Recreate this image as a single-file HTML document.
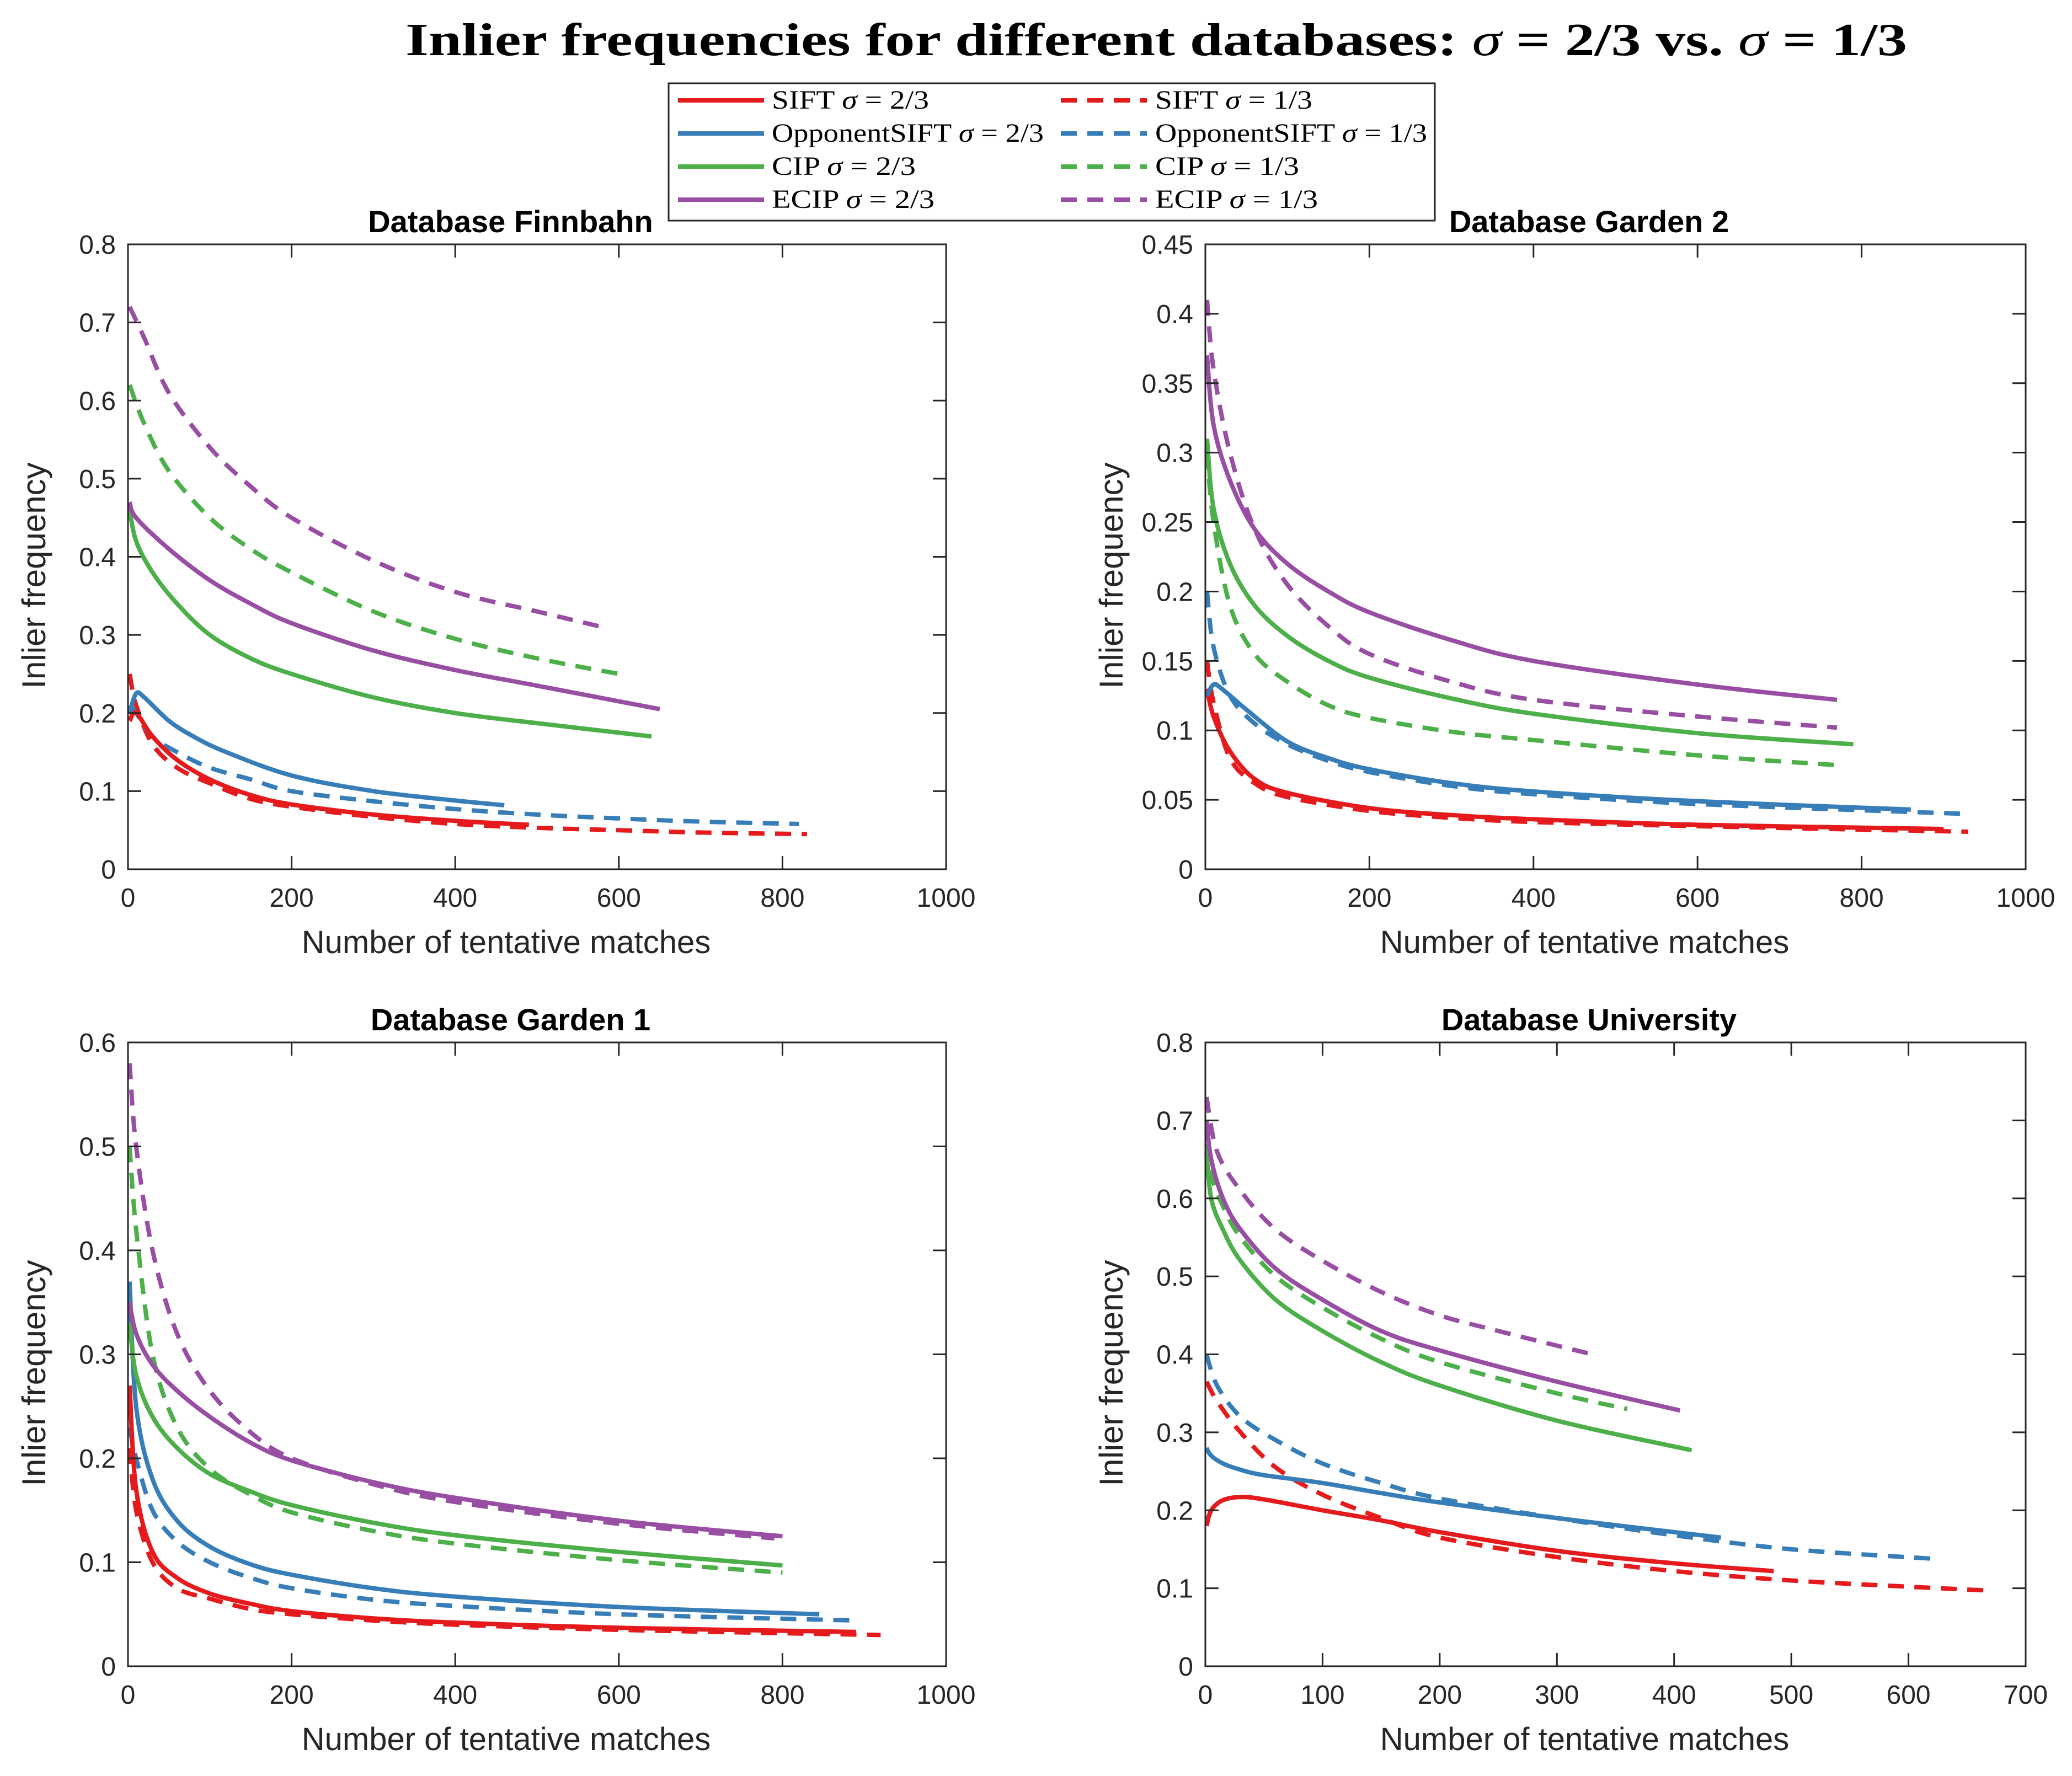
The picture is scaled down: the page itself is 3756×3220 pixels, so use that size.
<!DOCTYPE html>
<html><head><meta charset="utf-8">
<style>
html,body{margin:0;padding:0;background:#fff;}
svg{display:block;}
</style></head>
<body>
<svg id="fig" xmlns="http://www.w3.org/2000/svg" width="3756" height="3220" viewBox="0 0 3756 3220">
<rect width="3756" height="3220" fill="#fff"/>
<text x="735" y="100" textLength="2722" lengthAdjust="spacingAndGlyphs" font-family="Liberation Serif, serif" font-weight="bold" font-size="84">Inlier frequencies for different databases: <tspan font-style="italic" font-weight="normal">σ</tspan> = 2/3 vs. <tspan font-style="italic" font-weight="normal">σ</tspan> = 1/3</text>
<g id="plots"></g>
<g id="legend"></g>
</svg>
<script>
const colors = ["#e41a1c","#377eb8","#4daf4a","#984ea3"];
const seriesNames = ["SIFT","OpponentSIFT","CIP","ECIP"];

// Finnbahn
const finnSiftSolid=[[2,0.19],[10,0.2],[30,0.17],[60,0.14],[100,0.115],[150,0.095],[200,0.083],[300,0.07],[400,0.062],[490,0.057]];
const finnSiftDash=[[2,0.25],[10,0.21],[30,0.16],[60,0.13],[100,0.11],[150,0.09],[200,0.08],[300,0.067],[400,0.058],[500,0.053],[600,0.05],[700,0.047],[830,0.045]];
const finnOppSolid=[[2,0.2],[10,0.225],[20,0.22],[50,0.19],[80,0.17],[120,0.15],[200,0.12],[300,0.1],[400,0.088],[460,0.082]];
const finnOppDash=[[2,0.21],[10,0.2],[30,0.17],[60,0.15],[100,0.13],[150,0.115],[200,0.1],[300,0.087],[400,0.077],[500,0.07],[600,0.065],[700,0.061],[820,0.058]];
const finnCipSolid=[[2,0.46],[10,0.42],[30,0.38],[60,0.34],[100,0.3],[150,0.27],[200,0.25],[300,0.22],[400,0.2],[500,0.187],[640,0.17]];
const finnCipDash=[[2,0.62],[20,0.57],[50,0.51],[100,0.45],[150,0.41],[200,0.38],[300,0.33],[400,0.295],[500,0.27],[600,0.25]];
const finnEcipSolid=[[2,0.47],[10,0.45],[50,0.41],[100,0.37],[150,0.34],[200,0.315],[300,0.28],[400,0.255],[500,0.235],[650,0.205]];
const finnEcipDash=[[2,0.72],[20,0.68],[50,0.61],[100,0.54],[150,0.49],[200,0.45],[300,0.395],[400,0.355],[500,0.33],[580,0.31]];
// Garden 2
const g2SiftSolid=[[2,0.13],[10,0.11],[30,0.085],[60,0.065],[100,0.055],[200,0.044],[300,0.039],[400,0.036],[600,0.032],[900,0.029]];
const g2SiftDash=[[2,0.15],[10,0.12],[30,0.08],[60,0.062],[100,0.052],[200,0.042],[300,0.037],[400,0.034],[600,0.031],[930,0.027]];
const g2OppSolid=[[2,0.125],[10,0.133],[20,0.13],[50,0.115],[100,0.092],[150,0.08],[200,0.072],[300,0.062],[400,0.056],[600,0.049],[860,0.043]];
const g2OppDash=[[2,0.2],[10,0.16],[30,0.125],[60,0.105],[100,0.09],[150,0.078],[200,0.07],[300,0.06],[400,0.054],[600,0.047],[920,0.04]];
const g2CipSolid=[[2,0.31],[10,0.26],[30,0.22],[60,0.19],[100,0.168],[150,0.15],[200,0.138],[300,0.123],[400,0.112],[600,0.098],[790,0.09]];
const g2CipDash=[[2,0.3],[10,0.25],[30,0.19],[60,0.155],[100,0.135],[150,0.118],[200,0.109],[300,0.099],[400,0.093],[600,0.082],[770,0.075]];
const g2EcipSolid=[[2,0.37],[10,0.32],[30,0.28],[60,0.245],[100,0.22],[150,0.2],[200,0.185],[300,0.165],[400,0.15],[600,0.133],[770,0.122]];
const g2EcipDash=[[2,0.41],[10,0.36],[30,0.3],[60,0.245],[100,0.205],[150,0.175],[200,0.155],[300,0.135],[400,0.122],[600,0.11],[770,0.102]];
// Garden 1
const g1SiftSolid=[[2,0.27],[10,0.17],[30,0.11],[60,0.085],[100,0.07],[150,0.06],[200,0.053],[300,0.046],[400,0.042],[600,0.037],[890,0.033]];
const g1SiftDash=[[2,0.21],[10,0.15],[30,0.1],[60,0.075],[100,0.065],[150,0.055],[200,0.05],[300,0.044],[400,0.04],[600,0.035],[920,0.03]];
const g1OppSolid=[[2,0.37],[10,0.25],[30,0.18],[60,0.14],[100,0.115],[150,0.098],[200,0.088],[300,0.075],[400,0.067],[600,0.057],[845,0.05]];
const g1OppDash=[[2,0.23],[10,0.2],[30,0.15],[60,0.12],[100,0.1],[150,0.085],[200,0.075],[300,0.064],[400,0.058],[600,0.05],[890,0.044]];
const g1CipSolid=[[2,0.33],[10,0.28],[30,0.24],[60,0.21],[100,0.185],[150,0.168],[200,0.155],[300,0.138],[400,0.126],[600,0.11],[800,0.097]];
const g1CipDash=[[2,0.5],[10,0.42],[30,0.3],[60,0.23],[100,0.19],[150,0.165],[200,0.148],[300,0.13],[400,0.118],[600,0.102],[800,0.09]];
const g1EcipSolid=[[2,0.35],[10,0.32],[30,0.29],[60,0.265],[100,0.24],[150,0.215],[200,0.198],[300,0.177],[400,0.162],[600,0.14],[800,0.125]];
const g1EcipDash=[[2,0.58],[10,0.5],[30,0.4],[60,0.32],[100,0.265],[150,0.225],[200,0.2],[300,0.175],[400,0.158],[600,0.137],[790,0.123]];
// University
const uSiftSolid=[[1,0.18],[5,0.2],[15,0.213],[30,0.217],[50,0.214],[100,0.2],[150,0.187],[200,0.172],[300,0.148],[400,0.132],[485,0.122]];
const uSiftDash=[[1,0.365],[10,0.34],[30,0.3],[60,0.255],[100,0.22],[150,0.19],[200,0.165],[300,0.14],[400,0.122],[500,0.11],[600,0.102],[670,0.097]];
const uOppSolid=[[1,0.28],[5,0.27],[15,0.26],[30,0.252],[50,0.245],[100,0.235],[150,0.222],[200,0.21],[300,0.19],[400,0.172],[440,0.165]];
const uOppDash=[[1,0.4],[10,0.36],[30,0.32],[60,0.29],[100,0.26],[150,0.235],[200,0.215],[300,0.19],[400,0.168],[500,0.15],[620,0.138]];
const uCipSolid=[[1,0.66],[5,0.6],[15,0.56],[30,0.52],[60,0.47],[100,0.43],[150,0.39],[200,0.36],[300,0.315],[415,0.277]];
const uCipDash=[[1,0.67],[5,0.63],[15,0.59],[30,0.55],[60,0.5],[100,0.46],[150,0.42],[200,0.39],[300,0.35],[360,0.33]];
const uEcipSolid=[[1,0.7],[5,0.65],[15,0.6],[30,0.56],[60,0.51],[100,0.47],[150,0.43],[200,0.405],[300,0.365],[405,0.328]];
const uEcipDash=[[1,0.73],[10,0.66],[30,0.61],[60,0.56],[100,0.52],[150,0.48],[200,0.45],[250,0.43],[330,0.4]];

const xTicks1000=[0,200,400,600,800,1000];
const xTicks700=[0,100,200,300,400,500,600,700];
const yTicks08=[0,0.1,0.2,0.3,0.4,0.5,0.6,0.7,0.8];
const yTicks045=[0,0.05,0.1,0.15,0.2,0.25,0.3,0.35,0.4,0.45];
const yTicks06=[0,0.1,0.2,0.3,0.4,0.5,0.6];

const panels=[
 {name:"finnbahn",title:"Database Finnbahn",box:[232,443,1715,1576],xmax:1000,ymax:0.8,xt:xTicks1000,yt:yTicks08,
  solid:[finnSiftSolid,finnOppSolid,finnCipSolid,finnEcipSolid],dash:[finnSiftDash,finnOppDash,finnCipDash,finnEcipDash]},
 {name:"garden2",title:"Database Garden 2",box:[2185,443,3672,1576],xmax:1000,ymax:0.45,xt:xTicks1000,yt:yTicks045,
  solid:[g2SiftSolid,g2OppSolid,g2CipSolid,g2EcipSolid],dash:[g2SiftDash,g2OppDash,g2CipDash,g2EcipDash]},
 {name:"garden1",title:"Database Garden 1",box:[232,1890,1715,3021],xmax:1000,ymax:0.6,xt:xTicks1000,yt:yTicks06,
  solid:[g1SiftSolid,g1OppSolid,g1CipSolid,g1EcipSolid],dash:[g1SiftDash,g1OppDash,g1CipDash,g1EcipDash]},
 {name:"university",title:"Database University",box:[2185,1890,3672,3021],xmax:700,ymax:0.8,xt:xTicks700,yt:yTicks08,
  solid:[uSiftSolid,uOppSolid,uCipSolid,uEcipSolid],dash:[uSiftDash,uOppDash,uCipDash,uEcipDash]}
];

const NS="http://www.w3.org/2000/svg";
function mk(tag,attrs,parent){const e=document.createElementNS(NS,tag);for(const k in attrs)e.setAttribute(k,attrs[k]);parent.appendChild(e);return e;}
const root=document.getElementById("plots");
const keys=["sift","opponentsift","cip","ecip"];

function smoothPath(pts){
  let d="M"+pts[0][0].toFixed(1)+","+pts[0][1].toFixed(1);
  for(let i=0;i<pts.length-1;i++){
    const p0=pts[Math.max(0,i-1)],p1=pts[i],p2=pts[i+1],p3=pts[Math.min(pts.length-1,i+2)];
    const c1=[p1[0]+(p2[0]-p0[0])/6,p1[1]+(p2[1]-p0[1])/6];
    const c2=[p2[0]-(p3[0]-p1[0])/6,p2[1]-(p3[1]-p1[1])/6];
    d+=" C"+c1[0].toFixed(1)+","+c1[1].toFixed(1)+" "+c2[0].toFixed(1)+","+c2[1].toFixed(1)+" "+p2[0].toFixed(1)+","+p2[1].toFixed(1);
  }
  return d;
}

panels.forEach(p=>{
  const [x0,y0,x1,y1]=p.box;
  const sx=v=>x0+(v/p.xmax)*(x1-x0);
  const sy=v=>y1-(v/p.ymax)*(y1-y0);
  const g=mk("g",{},root);
  
  
  const t=mk("text",{x:(x0+x1)/2-48,y:y0-22,"text-anchor":"middle","font-family":"Liberation Sans, sans-serif","font-weight":"bold","font-size":"56"},g);
  t.textContent=p.title;
  
  
  const draw=(arr,i,dash)=>{
    const pts=arr.map(pt=>[sx(pt[0]),sy(pt[1])]);
    const a={d:smoothPath(pts),fill:"none",stroke:colors[i],"stroke-width":"8","stroke-linejoin":"round"};
    if(dash)a["stroke-dasharray"]="29,19";
    const path=mk("path",a,g);
    
    
  };
  p.dash.forEach((a,i)=>draw(a,i,true));
  p.solid.forEach((a,i)=>draw(a,i,false));
  const box=mk("rect",{x:x0,y:y0,width:x1-x0,height:y1-y0,fill:"none",stroke:"#262626","stroke-width":"3"},g);
  
  
  p.xt.forEach(v=>{
    const X=sx(v);
    mk("line",{x1:X,y1:y1,x2:X,y2:y1-24,stroke:"#262626","stroke-width":"3"},g);
    mk("line",{x1:X,y1:y0,x2:X,y2:y0+24,stroke:"#262626","stroke-width":"3"},g);
    const tl=mk("text",{x:X,y:y1+68,"text-anchor":"middle","font-family":"Liberation Sans, sans-serif","font-size":"48",fill:"#262626"},g);
    tl.textContent=String(v);
    
    
  });
  p.yt.forEach(v=>{
    const Y=sy(v);
    mk("line",{x1:x0,y1:Y,x2:x0+24,y2:Y,stroke:"#262626","stroke-width":"3"},g);
    mk("line",{x1:x1,y1:Y,x2:x1-24,y2:Y,stroke:"#262626","stroke-width":"3"},g);
    const tl=mk("text",{x:x0-22,y:Y+17,"text-anchor":"end","font-family":"Liberation Sans, sans-serif","font-size":"48",fill:"#262626"},g);
    tl.textContent=String(v);
    
    
  });
  const xl=mk("text",{x:(x0+x1)/2-56,y:y1+152,"text-anchor":"middle","font-family":"Liberation Sans, sans-serif","font-size":"58",fill:"#262626"},g);
  xl.textContent="Number of tentative matches";
  
  
  const yx=x0-150, yc=(y0+y1)/2+34;
  const yl=mk("text",{x:yx,y:yc,"text-anchor":"middle","font-family":"Liberation Sans, sans-serif","font-size":"60",fill:"#262626",transform:"rotate(-90 "+yx+" "+yc+")"},g);
  yl.textContent="Inlier frequency";
  
  
});

const lg=document.getElementById("legend");
mk("rect",{x:1212,y:151,width:1389,height:249,fill:"#fff",stroke:"#262626","stroke-width":"3"},lg);
const rowsY=[182,242,302,362];
const legendWidths=[285,493,261,295];
const cols=[[1229,1385,1399,"2/3",false],[1923,2079,2094,"1/3",true]];
cols.forEach(c=>{
  seriesNames.forEach((n,i)=>{
    const Y=rowsY[i];
    const a={x1:c[0],y1:Y,x2:c[1],y2:Y,stroke:colors[i],"stroke-width":"8"};
    if(c[4])a["stroke-dasharray"]="29,19";
    const l=mk("line",a,lg);
    
    
    const t=mk("text",{x:c[2],y:Y+15,"font-family":"Liberation Serif, serif","font-size":"48",fill:"#000",textLength:legendWidths[i],lengthAdjust:"spacingAndGlyphs"},lg);
    t.innerHTML=n+' <tspan font-style="italic">σ</tspan> = '+c[3];
    
    
  });
});
</script>
</body></html>
